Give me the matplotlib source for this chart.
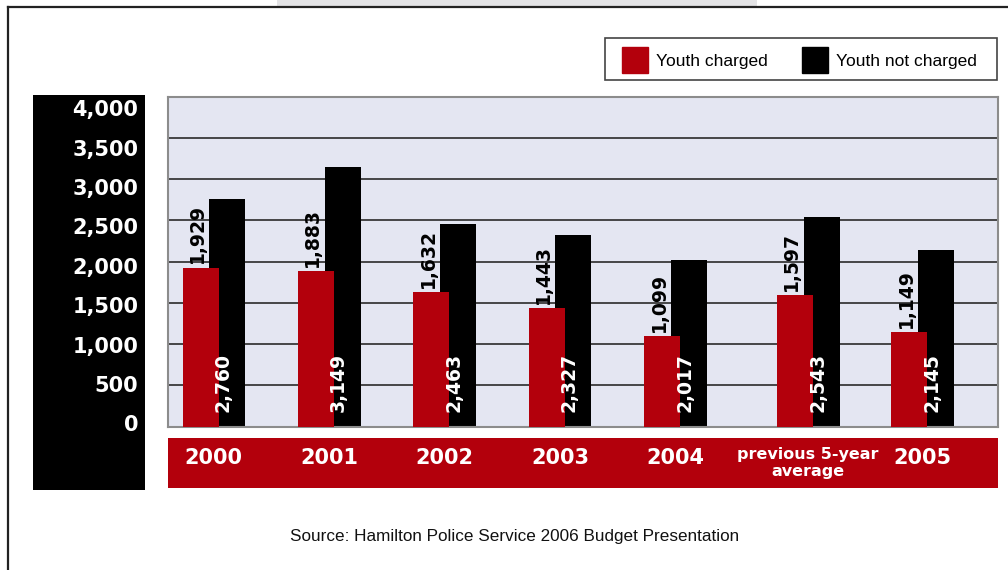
import matplotlib
matplotlib.use('Agg')
import matplotlib.pyplot as plt
from matplotlib.patches import Rectangle, Patch
from matplotlib.lines import Line2D

plt.rcParams['font.family'] = ['Liberation Sans', 'DejaVu Sans']
BOLD = 'DejaVu Sans'

categories = ['2000', '2001', '2002', '2003', '2004', 'previous 5-year\naverage', '2005']
charged = [1929, 1883, 1632, 1443, 1099, 1597, 1149]
not_charged = [2760, 3149, 2463, 2327, 2017, 2543, 2145]
y_ticks = [0, 500, 1000, 1500, 2000, 2500, 3000, 3500, 4000]

RED = '#b3000c'
BG = '#e4e6f2'

W, H = 1008, 570
fig = plt.figure(figsize=(W / 100, H / 100), dpi=100)


def px(l, t, r, b):
    return [l / W, 1 - b / H, (r - l) / W, (b - t) / H]


# frame and the grey tab at the top
fig.add_artist(Rectangle((277 / W, 1 - 6 / H), 480 / W, 6 / H, transform=fig.transFigure,
                         color='#e3e3e5', lw=0))
fig.add_artist(Line2D([8 / W, 8 / W], [0, 1 - 7 / H], transform=fig.transFigure, color='#222', lw=1.6))
fig.add_artist(Line2D([8 / W, 1], [1 - 7 / H, 1 - 7 / H], transform=fig.transFigure, color='#222', lw=1.6))

# slot positions (the average column sits a little further out)
slots = [0, 1, 2, 3, 4, 5.15, 6.14]
bw = 36
off = 26.7
red_x = [200.5 + 115.4 * s for s in slots]
blk_x = [x + off for x in red_x]
mid_x = [x + off / 2 for x in red_x]

ax = fig.add_axes(px(168, 96.7, 998, 426.7))
ax.set_facecolor(BG)
ax.set_xlim(168, 998)
ax.set_ylim(0, 4000)
for v in y_ticks[1:-1]:
    ax.axhline(v, color='#2a2a2a', lw=1.2, zorder=1)
ax.bar(blk_x, not_charged, width=bw, color='black', zorder=2)
ax.bar(red_x, charged, width=bw, color=RED, zorder=3)
for x, v in zip(red_x, charged):
    ax.text(x - 3, v + 50, f'{v:,}', rotation=90, ha='center', va='bottom', family=BOLD,
            fontsize=13.5, fontweight='bold', color='black', zorder=4)
for x, v in zip(blk_x, not_charged):
    ax.text(x - 4, 180, f'{v:,}', rotation=90, ha='center', va='bottom', family=BOLD,
            fontsize=13.5, fontweight='bold', color='white', zorder=4)
ax.set_xticks([])
ax.set_yticks([])
for s in ax.spines.values():
    s.set_color('#8c8c8c')
    s.set_linewidth(1.5)

# black value panel on the left
ay = fig.add_axes(px(33, 95, 145, 490))
ay.set_facecolor('black')
ay.set_xlim(0, 1)
ay.set_ylim(-821, 4195)
ay.set_xticks([])
ay.set_yticks([])
for s in ay.spines.values():
    s.set_visible(False)
for v in y_ticks:
    ay.text(0.94, v, f'{v:,}', ha='right', va='center', fontsize=15, family=BOLD,
            fontweight='bold', color='white')

# red category band
ac = fig.add_axes(px(168, 437.7, 998, 488))
ac.set_facecolor(RED)
ac.set_xlim(168, 998)
ac.set_ylim(0, 1)
ac.set_xticks([])
ac.set_yticks([])
for s in ac.spines.values():
    s.set_visible(False)
for x, c in zip(mid_x, categories):
    if '\n' in c:
        ac.text(x, 0.5, c, ha='center', va='center', fontsize=11.5, fontweight='bold',
                family=BOLD, color='white', linespacing=1.15)
    else:
        ac.text(x, 0.6, c, ha='center', va='center', fontsize=15, fontweight='bold',
                family=BOLD, color='white')

# legend: frame drawn as a plain box
fig.add_artist(Rectangle((605 / W, 1 - 80 / H), 392 / W, 42 / H, transform=fig.transFigure,
                         facecolor='white', edgecolor='#444', lw=1.2))
handles = [Patch(color=RED, label='Youth charged'), Patch(color='black', label='Youth not charged')]
fig.legend(handles=handles, loc='center left', bbox_to_anchor=(622 / W, 1 - 60 / H),
           ncol=2, fontsize=12.5, handlelength=1.5, handleheight=1.9,
           handletextpad=0.45, columnspacing=2.0, borderpad=0,
           frameon=False, borderaxespad=0)

fig.text(515 / W, 1 - 537 / H, 'Source: Hamilton Police Service 2006 Budget Presentation',
         ha='center', va='center', fontsize=12.3, color='#111')

fig.savefig('out.png', dpi=100)
